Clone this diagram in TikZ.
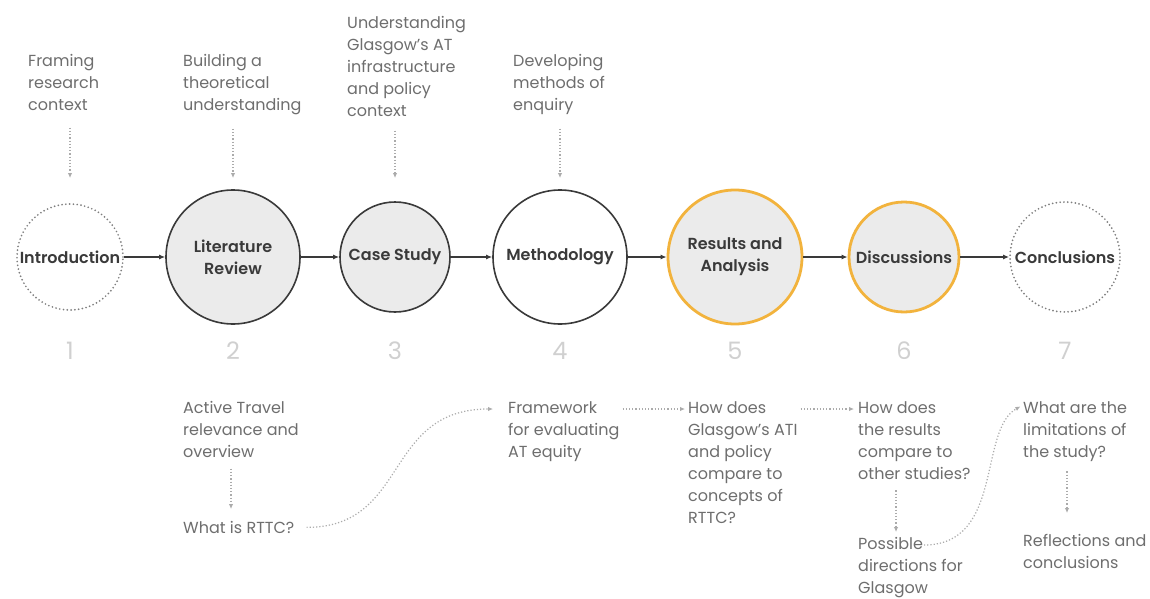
\documentclass[tikz,border=0pt]{standalone}
\usepackage{fontspec}
\setmainfont{Poppins}[BoldFont={* SemiBold}]
\usetikzlibrary{arrows.meta,positioning}
\definecolor{stageline}{HTML}{3A3A3A}
\definecolor{stagefill}{HTML}{EBEBEB}
\definecolor{stagegold}{HTML}{F2B33D}
\definecolor{stagedot}{HTML}{7E7E7E}
\definecolor{notegray}{HTML}{6E6E6E}
\definecolor{numgray}{HTML}{D0D0D0}
\definecolor{linkgray}{HTML}{ABABAB}

\begin{document}
\begin{tikzpicture}[x=1pt, y=-1pt,
    stage/.style={circle, draw=stageline, line width=1.6pt, inner sep=0pt,
                  align=center, text=stageline,
                  font=\fontsize{16}{22}\selectfont\bfseries},
    bigstage/.style={stage, minimum size=134pt},
    smallstage/.style={stage, minimum size=110pt},
    openstage/.style={stage, draw=stagedot, line width=1.9pt, line cap=round,
                      dash pattern=on 0pt off 3.8pt, minimum size=106pt},
    keystage/.style={draw=stagegold, line width=2.8pt},
    note/.style={anchor=north west, inner sep=0pt, align=left, text=notegray,
                 font=\fontsize{16}{22}\selectfont},
    stepnum/.style={text=numgray, font=\fontsize{24}{24}\selectfont},
    flow/.style={-{Latex[length=6pt,width=5pt]}, line width=1.4pt, draw=stageline},
    link/.style={-{Latex[length=5pt,width=4.5pt]}, draw=linkgray, line width=1.2pt,
                 dash pattern=on 1.2pt off 2pt}
  ]
    \fill[white] (0,0) rectangle (1150,599);
    \useasboundingbox (0,0) rectangle (1150,599);

    % Chapter circles
    \node[openstage] (intro) at (70,257) {Introduction};
    \node[bigstage, fill=stagefill] (litrev) at (233,257) {Literature\\Review};
    \node[smallstage, fill=stagefill] (casestudy) at (395,257) {Case Study};
    \node[bigstage, fill=white] (method) at (560,257) {Methodology};
    \node[bigstage, keystage, fill=stagefill] (results) at (735,257) {Results and\\Analysis};
    \node[smallstage, keystage, fill=stagefill] (discuss) at (904,257) {Discussions};
    \node[openstage, minimum size=110pt] (concl) at (1065,257) {Conclusions};

    \draw[flow] (intro) -- (litrev);
    \draw[flow] (litrev) -- (casestudy);
    \draw[flow] (casestudy) -- (method);
    \draw[flow] (method) -- (results);
    \draw[flow] (results) -- (discuss);
    \draw[flow] (discuss) -- (concl);

    % Chapter numbers
    \foreach \s/\n in {intro/1, litrev/2, casestudy/3, method/4, results/5, discuss/6, concl/7}
      \node[stepnum] (num\n) at (\s |- 0,351) {\n};

    % Aims above the circles
    \node[note] (aim1) at (28,54) {Framing\\research\\context};
    \node[note] (aim2) at (183,54) {Building a\\theoretical\\understanding};
    \node[note] (aim3) at (347,16) {Understanding\\Glasgow’s AT\\infrastructure\\and policy\\context};
    \node[note] (aim4) at (513,54) {Developing\\methods of\\enquiry};

    \coordinate (in1) at (intro |- 0,178);
    \coordinate (in2) at (litrev |- 0,178);
    \coordinate (in3) at (casestudy |- 0,178);
    \coordinate (in4) at (method |- 0,178);
    \draw[link, shorten <=17pt] (aim1.south -| in1) -- (in1);
    \draw[link, shorten <=14pt] (aim2.south -| in2) -- (in2);
    \draw[link, shorten <=14pt] (aim3.south -| in3) -- (in3);
    \draw[link, shorten <=14pt] (aim4.south -| in4) -- (in4);

    % Questions below the circles
    \node[note] (travel) at (183,401) {Active Travel\\relevance and\\overview};
    \node[note] (rttc) at (183,521) {What is RTTC?};
    \node[note] (frame) at (508,401) {Framework\\for evaluating\\AT equity};
    \node[note] (compare) at (688,401) {How does\\Glasgow’s ATI\\and policy\\compare to\\concepts of\\RTTC?};
    \node[note] (others) at (858,401) {How does\\the results\\compare to\\other studies?};
    \node[note] (direct) at (858,537) {Possible\\directions for\\Glasgow};
    \node[note] (limits) at (1023,401) {What are the\\limitations of\\the study?};
    \node[note] (reflect) at (1023,534) {Reflections and\\conclusions};

    \draw[link, shorten <=11pt, shorten >=12pt]
      ([xshift=48pt]travel.south west) -- ([xshift=48pt]rttc.north west);
    \draw[link, shorten <=12pt, shorten >=15pt]
      (rttc.east) .. controls +(115,0) and +(-125,0) .. ([yshift=-8pt]frame.north west);
    \draw[link, shorten <=3pt, shorten >=3pt]
      ([yshift=-8pt]frame.north east) -- ([yshift=-8pt]compare.north west);
    \draw[link, shorten <=3pt, shorten >=4pt]
      ([yshift=-8pt]compare.north east) -- ([yshift=-8pt]others.north west);
    \draw[link, shorten <=11pt, shorten >=5pt]
      ([xshift=38pt]others.south west) -- ([xshift=38pt]direct.north west);
    \draw[link, shorten >=3pt]
      ([xshift=66pt,yshift=-8pt]direct.north west) .. controls +(80,0) and +(-45,25) .. ([yshift=-4pt]limits.north west);
    \draw[link, shorten <=10pt, shorten >=21pt]
      ([xshift=44pt]limits.south west) -- ([xshift=44pt]reflect.north west);
\end{tikzpicture}
\end{document}
